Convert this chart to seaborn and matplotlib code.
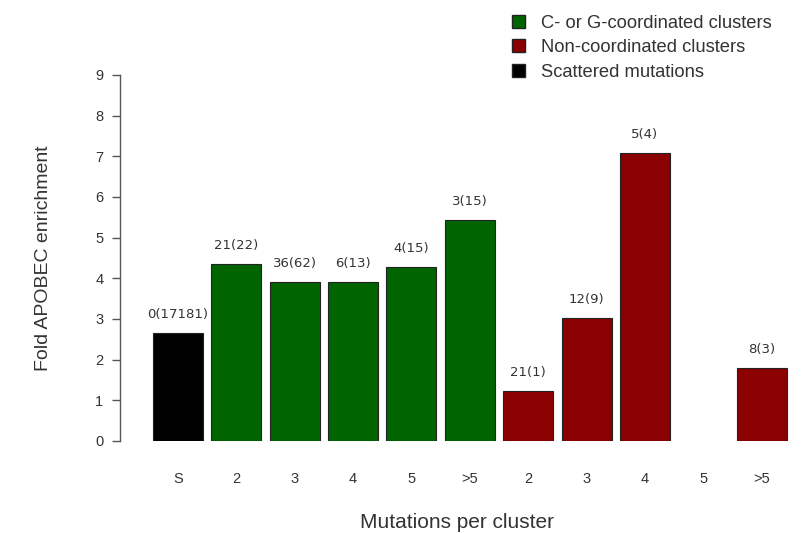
import numpy as np
import pandas as pd
import matplotlib
matplotlib.use('Agg')
import matplotlib.pyplot as plt
import seaborn as sns
from matplotlib.patches import Patch

# data
keys = ['S', 'c2', 'c3', 'c4', 'c5', 'c6', 'n2', 'n3', 'n4', 'n5', 'n6']
tick_labels = ['S', '2', '3', '4', '5', '>5', '2', '3', '4', '5', '>5']
groups = ['Scattered mutations'] + ['C- or G-coordinated clusters'] * 5 + ['Non-coordinated clusters'] * 5
enrichment = [2.66, 4.35, 3.91, 3.91, 4.28, 5.43, 1.23, 3.02, 7.08, np.nan, 1.80]
bar_labels = ['0(17181)', '21(22)', '36(62)', '6(13)', '4(15)', '3(15)',
              '21(1)', '12(9)', '5(4)', '', '8(3)']

colors = {'C- or G-coordinated clusters': '#006400',
          'Non-coordinated clusters': '#8b0000',
          'Scattered mutations': '#000000'}

df = pd.DataFrame({'key': keys, 'value': enrichment, 'group': groups})

sns.set_style('white')
plt.rcParams['font.family'] = ['Liberation Sans', 'DejaVu Sans']

fig = plt.figure(figsize=(8.06, 5.33), dpi=100)
ax = fig.add_axes([120 / 806, 92 / 533, 675 / 806, 366 / 533])

sns.barplot(data=df, x='key', y='value', hue='group', palette=colors,
            order=keys, dodge=False, width=0.856, edgecolor='#222222',
            linewidth=0.8, saturation=1, legend=False, ax=ax)

for i, (v, lab) in enumerate(zip(enrichment, bar_labels)):
    if lab and not np.isnan(v):
        ax.text(i, v + 0.3, lab, ha='center', va='bottom', fontsize=9.5,
                color='#333333', family='DejaVu Sans')

ax.set_xlim(-0.993, 10.57)
ax.set_ylim(0, 9)
ax.set_yticks(range(10))
ax.set_xticks(range(len(keys)))
ax.set_xticklabels(tick_labels)
ax.tick_params(axis='x', length=0, pad=22, labelsize=10.5, labelcolor='#333333')
ax.tick_params(axis='y', length=6, width=1, color='#555555', pad=6, labelsize=10.5,
               labelcolor='#333333', left=True)
for s in ['top', 'right', 'bottom']:
    ax.spines[s].set_visible(False)
ax.spines['left'].set_color('#555555')
ax.spines['left'].set_linewidth(1)

ax.set_ylabel('Fold APOBEC enrichment', fontsize=14, color='#333333', labelpad=31)
ax.set_xlabel('Mutations per cluster', fontsize=15, color='#333333', labelpad=20)

handles = [Patch(facecolor=colors[g], edgecolor='#222222', label=g) for g in
           ['C- or G-coordinated clusters', 'Non-coordinated clusters', 'Scattered mutations']]
fig.legend(handles=handles, loc='upper left', bbox_to_anchor=(500 / 806, 1 - 3 / 533),
           frameon=False, fontsize=13.2, handlelength=0.72, handleheight=0.72,
           handletextpad=0.85, labelspacing=0.4, borderpad=0.15, labelcolor='#333333')

fig.savefig('out.png')
